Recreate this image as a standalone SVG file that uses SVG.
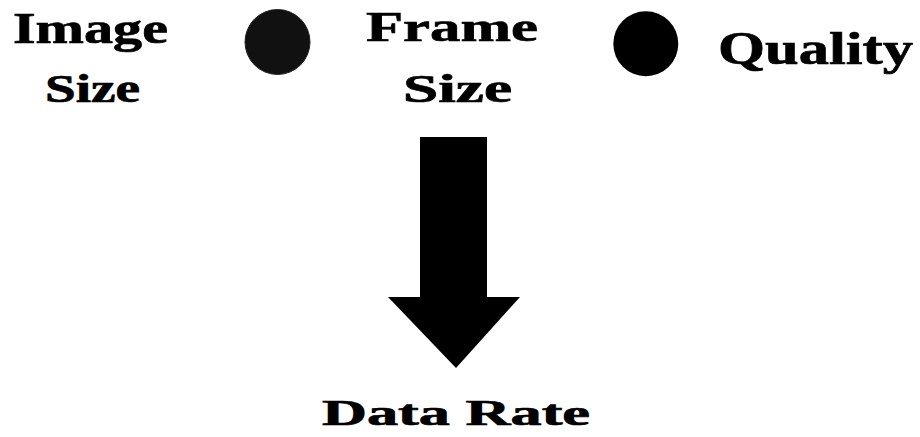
<svg xmlns="http://www.w3.org/2000/svg" width="920" height="437" viewBox="0 0 920 437">
<style>
.t{font-family:"Liberation Serif","Times New Roman",serif;font-weight:bold;fill:#000;stroke:#000;stroke-width:0.7}
.dot{fill:#111;stroke:#222;stroke-width:1}
</style>
<rect width="920" height="437" fill="#fff"/>
<g id="image-size">
<text class="t" x="13" y="42.5" font-size="45" textLength="155" lengthAdjust="spacingAndGlyphs">Image</text>
<text class="t" x="45" y="101.5" font-size="39" textLength="95" lengthAdjust="spacingAndGlyphs">Size</text>
</g>
<g id="dot1"><circle class="dot" cx="277.5" cy="42" r="32.5"/></g>
<g id="frame-size">
<text class="t" x="366" y="40.5" font-size="43" textLength="172" lengthAdjust="spacingAndGlyphs">Frame</text>
<text class="t" x="403" y="101.5" font-size="39" textLength="109" lengthAdjust="spacingAndGlyphs">Size</text>
</g>
<g id="dot2"><circle cx="645.8" cy="43.8" r="32.5" fill="#000"/></g>
<g id="quality">
<text class="t" x="718" y="63.5" font-size="46" textLength="195" lengthAdjust="spacingAndGlyphs">Quality</text>
</g>
<g id="connectors">
<polygon points="420,137 487,137 487,297 520,297 456,368 388,297 420,297" fill="#000"/>
</g>
<g id="data-rate">
<text class="t" x="322" y="425" font-size="36" textLength="268" lengthAdjust="spacingAndGlyphs">Data Rate</text>
</g>
</svg>
